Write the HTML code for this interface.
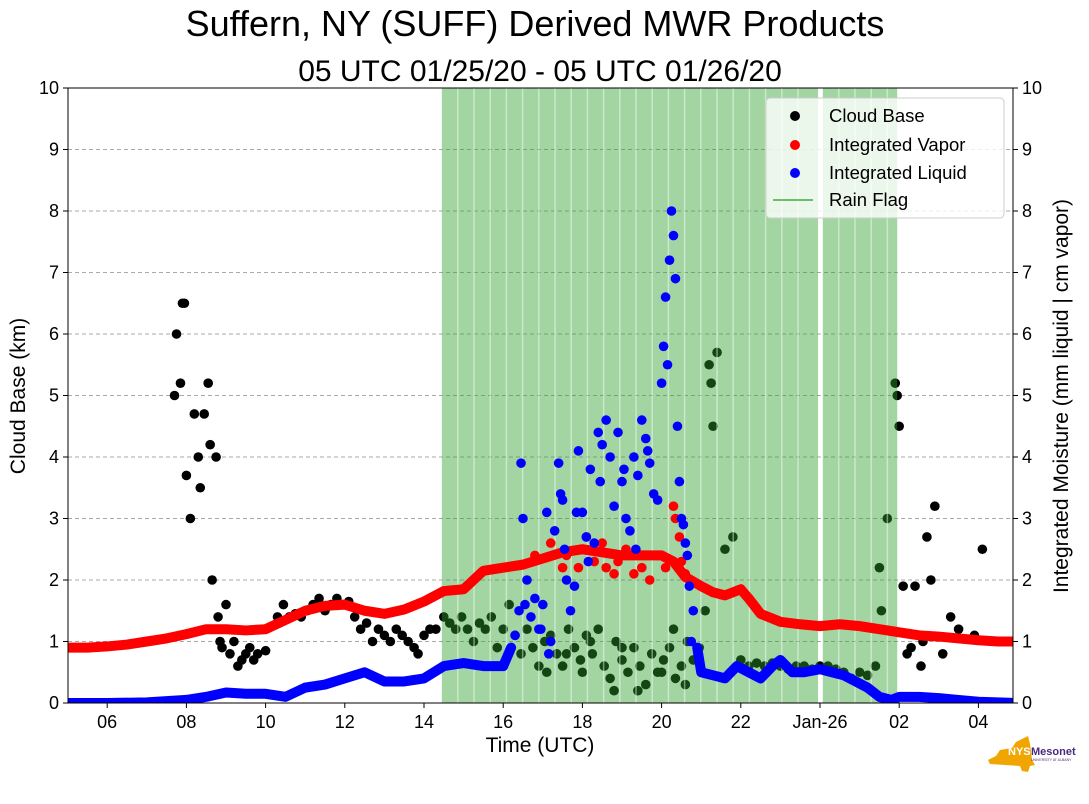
<!DOCTYPE html>
<html><head><meta charset="utf-8"><style>
html,body{margin:0;padding:0;background:#fff;}
svg{display:block;font-family:"Liberation Sans","DejaVu Sans",sans-serif;}
</style></head><body>
<svg id="chart" width="1089" height="804" xmlns="http://www.w3.org/2000/svg">
<text x="535" y="36" font-size="36" text-anchor="middle" fill="#000">Suffern, NY (SUFF) Derived MWR Products</text>
<text x="540" y="81" font-size="30" text-anchor="middle" fill="#000">05 UTC 01/25/20 - 05 UTC 01/26/20</text>
<g id="plot"></g>
<text x="540" y="752" font-size="21" text-anchor="middle">Time (UTC)</text>
<text transform="translate(25,396) rotate(-90)" font-size="21" text-anchor="middle">Cloud Base (km)</text>
<text transform="translate(1068,396) rotate(-90)" font-size="21" text-anchor="middle">Integrated Moisture (mm liquid | cm vapor)</text>
<g>
<rect x="766" y="98" width="238" height="120" rx="4" fill="#fff" fill-opacity="0.8" stroke="#ccc"/>
<circle cx="795" cy="116" r="5" fill="#000"/><text x="829" y="122" font-size="18.5">Cloud Base</text>
<circle cx="795" cy="145" r="5" fill="red"/><text x="829" y="151" font-size="18.5">Integrated Vapor</text>
<circle cx="795" cy="173" r="5" fill="blue"/><text x="829" y="179" font-size="18.5">Integrated Liquid</text>
<line x1="773" y1="200" x2="813" y2="200" stroke="#6bbf6b" stroke-width="2"/><text x="829" y="206" font-size="18.5">Rain Flag</text>
</g>
<g>
<path d="M1000,750 L1012,748 L1016,742 L1024,738 L1028,736 L1030,744 L1032,760 L1035,765 L1030,766 L1028,772 L1022,771 L1020,766 L990,764 L988,760 L996,756 Z" fill="#f0a500"/>
<text x="1008" y="755" font-size="11" font-weight="bold" fill="#fff">NYS</text>
<text x="1031" y="755" font-size="11" font-weight="bold" fill="#4b2a7b">Mesonet</text>
<text x="1031" y="761" font-size="3.5" fill="#4b2a7b">UNIVERSITY AT ALBANY</text>
</g>
</svg>
<script>
// ---- data ----
const xTickLabels = ["06","08","10","12","14","16","18","20","22","Jan-26","02","04"];
const xTickHours = [6,8,10,12,14,16,18,20,22,24,26,28];
const yTicks = [0,1,2,3,4,5,6,7,8,9,10];
const rainIntervals = [[14.45,23.95],[24.07,25.95]];
const vaporHours = [5,5.5,6,6.5,7,7.5,8,8.5,9,9.5,10,10.5,11,11.5,12,12.5,13,13.5,14,14.5,15,15.5,16,16.5,17,17.5,18,18.5,19,19.5,20,20.3,20.6,21,21.3,21.6,22,22.2,22.5,23,23.5,24,24.5,25,25.5,26,26.5,27,27.5,28,28.5,29];
const vaporValues = [0.9,0.9,0.92,0.95,1.0,1.05,1.12,1.2,1.2,1.18,1.2,1.35,1.5,1.58,1.6,1.5,1.45,1.52,1.65,1.82,1.85,2.15,2.2,2.25,2.35,2.45,2.5,2.45,2.4,2.4,2.4,2.3,2.05,1.9,1.8,1.75,1.85,1.7,1.45,1.32,1.28,1.25,1.28,1.25,1.2,1.15,1.1,1.08,1.05,1.02,1.0,1.0];
const vaporScatterHours = [16.8,17.2,17.5,17.6,18.1,18.3,18.5,18.6,18.9,19.1,19.3,19.5,19.7,19.9,20.1,20.3,20.35,20.5,20.45,20.6,17.9,18.8];
const vaporScatterValues = [2.4,2.6,2.2,2.4,2.7,2.3,2.6,2.2,2.3,2.5,2.1,2.2,2.0,2.4,2.2,3.2,3.0,2.3,2.7,2.1,2.2,2.1];
const liquidHours1 = [5,6,7,8,8.5,9,9.5,10,10.5,11,11.5,12,12.5,13,13.5,14,14.5,15,15.5,16,16.2];
const liquidValues1 = [0,0,0.01,0.05,0.1,0.17,0.15,0.15,0.1,0.25,0.3,0.4,0.5,0.35,0.35,0.4,0.6,0.65,0.6,0.6,0.9];
const liquidHours2 = [20.9,21,21.3,21.6,21.9,22.2,22.5,22.8,23,23.3,23.6,24,24.3,24.6,24.9,25.2,25.5,25.8,26,26.5,27,27.5,28,29];
const liquidValues2 = [0.9,0.5,0.45,0.4,0.6,0.5,0.4,0.6,0.7,0.5,0.5,0.55,0.5,0.45,0.35,0.25,0.1,0.05,0.1,0.1,0.08,0.05,0.02,0];
const liquidScatterHours = [16.3,16.4,16.45,16.5,16.6,16.7,16.8,16.9,17,17.1,17.2,17.3,17.4,17.5,17.6,17.7,17.8,17.9,18,18.1,18.2,18.3,18.4,18.5,18.6,18.7,18.8,18.9,19.0,19.1,19.2,19.3,19.4,19.5,19.6,19.7,19.8,19.9,20,20.05,20.1,20.15,20.2,20.25,20.3,20.35,20.4,20.45,20.5,20.55,20.6,20.65,20.7,20.8,16.55,16.95,17.15,17.45,17.55,17.85,18.15,18.45,19.05,19.35,19.65,20.75];
const liquidScatterValues = [1.1,1.5,3.9,3.0,2.0,1.4,1.7,1.2,1.6,3.1,1.0,2.8,3.9,3.3,2.0,1.5,1.9,4.1,3.1,2.7,3.8,2.6,4.4,4.2,4.6,4.0,3.2,4.4,3.6,3.0,2.8,4.0,3.7,4.6,4.3,3.9,3.4,3.3,5.2,5.8,6.6,5.5,7.2,8.0,7.6,6.9,4.5,3.6,3.0,2.9,2.6,2.4,1.9,1.5,1.6,1.2,0.8,3.4,2.5,3.1,2.3,3.6,3.8,2.5,4.1,1.0];
const cloudHours = [7.7,7.75,7.85,7.9,7.95,8.0,8.1,8.2,8.3,8.35,8.45,8.55,8.6,8.65,8.75,8.8,8.85,8.9,9.0,9.1,9.2,9.3,9.4,9.5,9.6,9.7,9.8,10,10.3,10.45,10.6,10.75,10.9,11.05,11.2,11.35,11.5,11.65,11.8,11.95,12.1,12.25,12.4,12.55,12.7,12.85,13.0,13.15,13.3,13.45,13.6,13.75,13.85,14.0,14.15,14.3,14.5,14.65,14.8,14.95,15.1,15.25,15.4,15.55,15.7,15.85,16.0,16.15,16.3,16.45,16.6,16.75,16.9,17.05,17.2,17.35,17.5,17.65,17.8,17.95,18.1,18.25,18.4,18.55,18.7,18.85,19.0,19.15,19.3,19.45,19.6,19.75,19.9,20.05,20.2,20.35,20.5,20.65,20.8,20.95,21.1,21.2,21.25,21.3,21.4,21.6,21.8,22.0,22.2,22.4,22.6,22.8,23.0,23.2,23.4,23.6,23.8,24.0,24.2,24.4,24.6,24.8,25.0,25.2,25.4,25.5,25.55,25.7,25.9,25.95,26,26.1,26.2,26.3,26.4,26.55,26.6,26.7,26.8,26.9,27.1,27.3,27.5,27.9,28.1,17.1,17.6,18.2,18.8,19.4,20.0,20.6,18.0,19.0,20.3];
const cloudValues = [5.0,6.0,5.2,6.5,6.5,3.7,3.0,4.7,4.0,3.5,4.7,5.2,4.2,2.0,4.0,1.4,1.0,0.9,1.6,0.8,1.0,0.6,0.7,0.8,0.9,0.7,0.8,0.85,1.4,1.6,1.4,1.45,1.4,1.5,1.6,1.7,1.5,1.6,1.7,1.6,1.65,1.4,1.2,1.3,1.0,1.2,1.1,1.0,1.2,1.1,1.0,0.9,0.8,1.1,1.2,1.2,1.4,1.3,1.2,1.4,1.2,1.0,1.3,1.2,1.4,0.9,1.2,1.6,1.1,0.8,1.2,0.9,0.6,1.0,1.1,0.8,0.6,1.2,0.9,0.7,1.1,0.8,1.2,0.6,0.4,1.0,0.7,0.5,0.9,0.6,0.3,0.8,0.5,0.7,0.9,0.4,0.6,1.0,0.7,0.9,1.5,5.5,5.2,4.5,5.7,2.5,2.7,0.7,0.6,0.65,0.6,0.65,0.6,0.55,0.6,0.6,0.55,0.6,0.6,0.55,0.5,0.4,0.5,0.45,0.6,2.2,1.5,3.0,5.2,5.0,4.5,1.9,0.8,0.9,1.9,0.6,1.0,2.7,2.0,3.2,0.8,1.4,1.2,1.1,2.5,0.5,0.8,1.0,0.2,0.2,0.5,0.3,0.5,0.9,1.2];
// ---- scales ----
const X0=68,X1=1013,Y0=703,Y1=88;
function xs(h){return 820+(h-24)*39.6;}
function ys(v){return Y0-v/10*(Y0-Y1);}
const NS="http://www.w3.org/2000/svg";
const plot=document.getElementById('plot');
function mk(tag,attrs,parent){const e=document.createElementNS(NS,tag);for(const k in attrs)e.setAttribute(k,attrs[k]);(parent||plot).appendChild(e);return e;}
const clip=mk('clipPath',{id:'pc'});mk('rect',{x:X0,y:Y1,width:X1-X0,height:Y0-Y1},clip);
const g=mk('g',{'clip-path':'url(#pc)'});
// grid
yTicks.forEach(v=>{if(v>0&&v<10){const l=mk('line',{x1:X0,x2:X1,y1:ys(v),y2:ys(v),stroke:'#aaa','stroke-dasharray':'4,3','stroke-width':1},g);

}});
// cloud base
cloudHours.forEach((h,i)=>{const c=mk('circle',{cx:xs(h),cy:ys(cloudValues[i]),r:4.8,fill:'#000'},g);

});
// rain flag
rainIntervals.forEach(iv=>{const r=mk('rect',{x:xs(iv[0]),y:Y1,width:xs(iv[1])-xs(iv[0]),height:Y0-Y1,fill:'rgb(44,160,44)','fill-opacity':0.44},g);


for(let x=xs(iv[0])+16;x<xs(iv[1])-4;x+=16.2){mk('line',{x1:x,x2:x,y1:Y1,y2:Y0,stroke:'#fff','stroke-opacity':0.45,'stroke-width':1.5},g);}});
// vapor
const vp=mk('polyline',{points:vaporHours.map((h,i)=>xs(h)+','+ys(vaporValues[i])).join(' '),fill:'none',stroke:'red','stroke-width':10,'stroke-linejoin':'round','stroke-linecap':'round'},g);


vaporScatterHours.forEach((h,i)=>{const c=mk('circle',{cx:xs(h),cy:ys(vaporScatterValues[i]),r:4.8,fill:'red'},g);

});
// liquid
[[liquidHours1,liquidValues1],[liquidHours2,liquidValues2]].forEach(s=>{
const lp=mk('polyline',{points:s[0].map((h,i)=>xs(h)+','+ys(s[1][i])).join(' '),fill:'none',stroke:'blue','stroke-width':10,'stroke-linejoin':'round','stroke-linecap':'round'},g);

});
liquidScatterHours.forEach((h,i)=>{const c=mk('circle',{cx:xs(h),cy:ys(liquidScatterValues[i]),r:4.8,fill:'blue'},g);

});
// frame
const fr=mk('rect',{x:X0,y:Y1,width:X1-X0,height:Y0-Y1,fill:'none',stroke:'#000','stroke-width':1});


// ticks
yTicks.forEach(v=>{
 mk('line',{x1:X0-5,x2:X0,y1:ys(v),y2:ys(v),stroke:'#000'});
 mk('line',{x1:X1,x2:X1+5,y1:ys(v),y2:ys(v),stroke:'#000'});
 const t1=mk('text',{x:X0-9,y:ys(v)+6,'font-size':18,'text-anchor':'end'});t1.textContent=v;
 
 
 const t2=mk('text',{x:X1+9,y:ys(v)+6,'font-size':18,'text-anchor':'start'});t2.textContent=v;
 
 
});
xTickHours.forEach((h,i)=>{
 mk('line',{x1:xs(h),x2:xs(h),y1:Y0,y2:Y0+5,stroke:'#000'});
 const t=mk('text',{x:xs(h),y:Y0+25,'font-size':18,'text-anchor':'middle'});t.textContent=xTickLabels[i];
 
 
});
</script>
</body></html>
